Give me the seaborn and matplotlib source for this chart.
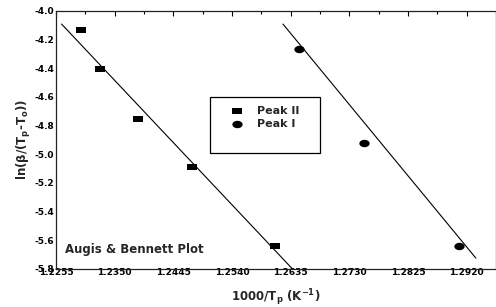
import numpy as np
import pandas as pd
import matplotlib
matplotlib.use("Agg")
import matplotlib.pyplot as plt
from matplotlib.patches import Rectangle
import seaborn as sns

# ---- data ----
peak2_x = [1.2296, 1.2327, 1.2388, 1.2475, 1.2610]
peak2_y = [-4.133, -4.405, -4.754, -5.089, -5.640]
peak1_x = [1.2649, 1.2753, 1.2908]
peak1_y = [-4.265, -4.921, -5.640]
fit2_x = [1.2264, 1.2638]
fit2_y = [-4.091, -5.800]
fit1_x = [1.26225, 1.29349]
fit1_y = [-4.091, -5.724]
xticks = [1.2255, 1.2350, 1.2445, 1.2540, 1.2635, 1.2730, 1.2825, 1.2920]
xtick_labels = ["1.2255", "1.2350", "1.2445", "1.2540", "1.2635", "1.2730", "1.2825", "1.2920"]
yticks = [-5.8, -5.6, -5.4, -5.2, -5.0, -4.8, -4.6, -4.4, -4.2, -4.0]
ytick_labels = ["-5.8", "-5.6", "-5.4", "-5.2", "-5.0", "-4.8", "-4.6", "-4.4", "-4.2", "-4.0"]

sns.set_style("white")
plt.rcParams["font.family"] = ["DejaVu Sans"]
plt.rcParams["font.weight"] = "bold"
plt.rcParams["mathtext.default"] = "bf"

df2 = pd.DataFrame({"x": peak2_x, "y": peak2_y})
df1 = pd.DataFrame({"x": peak1_x, "y": peak1_y})
dfit2 = pd.DataFrame({"x": fit2_x, "y": fit2_y})
dfit1 = pd.DataFrame({"x": fit1_x, "y": fit1_y})

fig = plt.figure(figsize=(4.96, 3.07), dpi=100)
ax = fig.add_axes([56 / 496, 1 - 269 / 307, 440 / 496, 258 / 307])

rect_marker = [(-1, -0.55), (1, -0.55), (1, 0.55), (-1, 0.55), (-1, -0.55)]
t = np.linspace(0, 2 * np.pi, 40)
ell_marker = list(zip(np.cos(t), 0.72 * np.sin(t)))

sns.lineplot(data=dfit2, x="x", y="y", ax=ax, color="black", linewidth=0.8)
sns.lineplot(data=dfit1, x="x", y="y", ax=ax, color="black", linewidth=0.8)
sns.scatterplot(data=df2, x="x", y="y", ax=ax, marker=rect_marker, s=55,
                color="black", edgecolor="black", linewidth=0, label="Peak II")
sns.scatterplot(data=df1, x="x", y="y", ax=ax, marker=ell_marker, s=55,
                color="black", edgecolor="black", linewidth=0, label="Peak I")

ax.set_xlim(1.2255, 1.2255 + 440 / 6368.4)
ax.set_ylim(-5.8, -4.0)
ax.set_xticks(xticks)
ax.set_xticklabels(xtick_labels)
ax.set_yticks(yticks)
ax.set_yticklabels(ytick_labels)
ax.set_xticks([v + 0.00475 for v in xticks], minor=True)
ax.set_yticks([v + 0.1 for v in yticks[:-1]], minor=True)
ax.tick_params(axis="both", which="both", direction="in", top=True, right=False,
               colors="black", width=0.8)
ax.tick_params(axis="both", which="major", length=3.5)
ax.tick_params(axis="both", which="minor", length=2.5)
ax.tick_params(axis="x", which="major", pad=-0.5, labelsize=6.5)
ax.tick_params(axis="y", which="major", pad=1.5, labelsize=6.5)
for lab in ax.get_xticklabels() + ax.get_yticklabels():
    lab.set_fontweight("bold")

for sp in ax.spines.values():
    sp.set_color("#222222")
    sp.set_linewidth(0.9)

ax.set_xlabel("1000/T$_p$ (K$^{-1}$)", fontsize=8.5, fontweight="bold")
ax.set_ylabel("ln(β/(T$_p$-T$_o$))", fontsize=8.5, fontweight="bold")
ax.xaxis.set_label_coords((276 - 56) / 440, (269 - 287) / 258)
ax.yaxis.set_label_coords((33 - 56) / 440, 0.5)

ax.text((65 - 56) / 440, (269 - 250) / 258, "Augis & Bennett Plot", transform=ax.transAxes,
        fontsize=8.5, fontweight="bold", va="center", ha="left")

leg = ax.legend(loc="upper left", bbox_to_anchor=((224 - 56) / 440, (269 - 98) / 258),
                frameon=False, fontsize=8, handletextpad=1.3, labelspacing=0.25,
                borderpad=0.2, handlelength=1.0)
ax.add_patch(Rectangle(((210 - 56) / 440, (269 - 153) / 258), 110 / 440, 56 / 258,
                       transform=ax.transAxes, fill=False, edgecolor="black", linewidth=0.9))

fig.savefig("out.png", dpi=100)
